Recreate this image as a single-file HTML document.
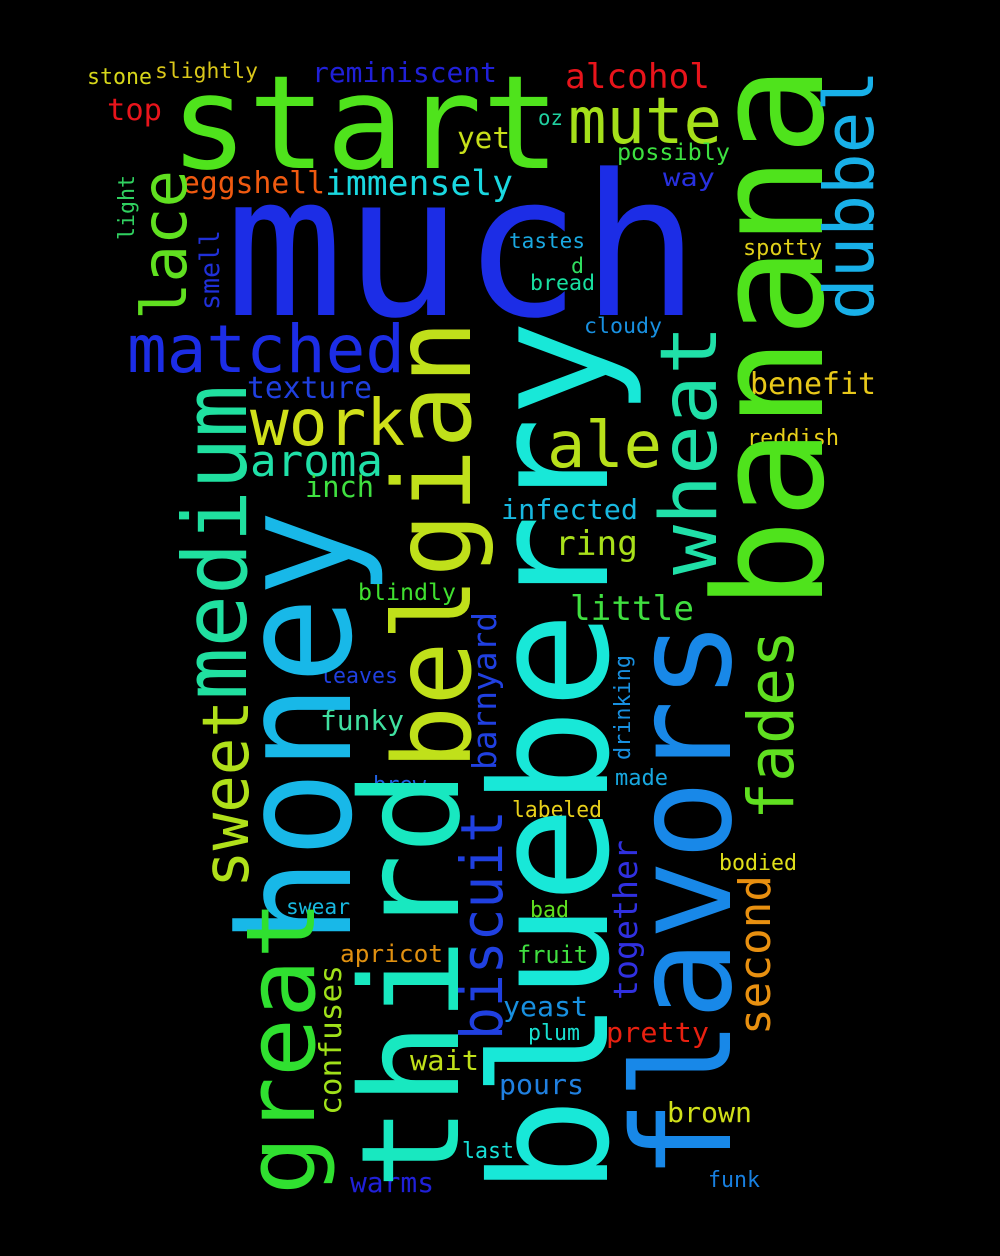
<!DOCTYPE html>
<html><head><meta charset="utf-8">
<style>
html,body{margin:0;padding:0;background:#000;}
svg{display:block;}
text{font-family:"DejaVu Sans Mono","Liberation Mono",monospace;}
</style></head>
<body>
<svg width="1000" height="1256" viewBox="0 0 1000 1256">
<rect width="1000" height="1256" fill="#000"/>
<g lengthAdjust="spacingAndGlyphs">
<!-- horizontal words -->
<text x="225" y="315" font-size="197" fill="#1c2de6" textLength="475" lengthAdjust="spacingAndGlyphs">much</text>
<text x="170" y="168" font-size="130" fill="#4fe31c" textLength="390" lengthAdjust="spacingAndGlyphs">start</text>
<text x="568" y="143" font-size="64" fill="#a5e01a" textLength="154" lengthAdjust="spacingAndGlyphs">mute</text>
<text x="565" y="88" font-size="34" fill="#e8141b" textLength="145" lengthAdjust="spacingAndGlyphs">alcohol</text>
<text x="312" y="82" font-size="28" fill="#2020d8" textLength="185" lengthAdjust="spacingAndGlyphs">reminiscent</text>
<text x="87" y="84" font-size="22" fill="#d7d71a" textLength="65" lengthAdjust="spacingAndGlyphs">stone</text>
<text x="155" y="78" font-size="21" fill="#dac71a" textLength="103" lengthAdjust="spacingAndGlyphs">slightly</text>
<text x="107" y="120" font-size="30" fill="#e8141b" textLength="55" lengthAdjust="spacingAndGlyphs">top</text>
<text x="457" y="148" font-size="29" fill="#c8e01a" textLength="53" lengthAdjust="spacingAndGlyphs">yet</text>
<text x="538" y="125" font-size="21" fill="#20d0a0" textLength="25" lengthAdjust="spacingAndGlyphs">oz</text>
<text x="617" y="160" font-size="23" fill="#3de040" textLength="113" lengthAdjust="spacingAndGlyphs">possibly</text>
<text x="182" y="193" font-size="30" fill="#f05a10" textLength="143" lengthAdjust="spacingAndGlyphs">eggshell</text>
<text x="325" y="195" font-size="35" fill="#1ad8e0" textLength="188" lengthAdjust="spacingAndGlyphs">immensely</text>
<text x="663" y="186" font-size="25" fill="#2830e0" textLength="52" lengthAdjust="spacingAndGlyphs">way</text>
<text x="509" y="248" font-size="21" fill="#1aa8e0" textLength="76" lengthAdjust="spacingAndGlyphs">tastes</text>
<text x="743" y="255" font-size="22" fill="#e0d01a" textLength="79" lengthAdjust="spacingAndGlyphs">spotty</text>
<text x="571" y="273" font-size="21" fill="#30e060" textLength="13" lengthAdjust="spacingAndGlyphs">d</text>
<text x="530" y="290" font-size="21" fill="#18e0a0" textLength="65" lengthAdjust="spacingAndGlyphs">bread</text>
<text x="584" y="333" font-size="21" fill="#1890e0" textLength="78" lengthAdjust="spacingAndGlyphs">cloudy</text>
<text x="127" y="372" font-size="66" fill="#1c2de6" textLength="278" lengthAdjust="spacingAndGlyphs">matched</text>
<text x="750" y="394" font-size="30" fill="#e8c81a" textLength="126" lengthAdjust="spacingAndGlyphs">benefit</text>
<text x="247" y="398" font-size="30" fill="#2040e0" textLength="125" lengthAdjust="spacingAndGlyphs">texture</text>
<text x="250" y="445" font-size="64" fill="#d0e01a" textLength="155" lengthAdjust="spacingAndGlyphs">work</text>
<text x="547" y="467" font-size="64" fill="#b8e01a" textLength="115" lengthAdjust="spacingAndGlyphs">ale</text>
<text x="747" y="445" font-size="22" fill="#e8d01a" textLength="92" lengthAdjust="spacingAndGlyphs">reddish</text>
<text x="250" y="476" font-size="44" fill="#20e0a8" textLength="133" lengthAdjust="spacingAndGlyphs">aroma</text>
<text x="305" y="497" font-size="29" fill="#40e040" textLength="69" lengthAdjust="spacingAndGlyphs">inch</text>
<text x="501" y="519" font-size="28" fill="#18b8e0" textLength="137" lengthAdjust="spacingAndGlyphs">infected</text>
<text x="555" y="555" font-size="34" fill="#a8e01a" textLength="83" lengthAdjust="spacingAndGlyphs">ring</text>
<text x="570" y="620" font-size="34" fill="#40e040" textLength="124" lengthAdjust="spacingAndGlyphs">little</text>
<text x="358" y="600" font-size="23" fill="#40e030" textLength="98" lengthAdjust="spacingAndGlyphs">blindly</text>
<text x="320" y="683" font-size="22" fill="#2040e0" textLength="78" lengthAdjust="spacingAndGlyphs">leaves</text>
<text x="320" y="730" font-size="28" fill="#40e0a0" textLength="84" lengthAdjust="spacingAndGlyphs">funky</text>
<text x="373" y="792" font-size="22" fill="#2060e0" textLength="53" lengthAdjust="spacingAndGlyphs">brew</text>
<text x="615" y="785" font-size="22" fill="#18a8e0" textLength="53" lengthAdjust="spacingAndGlyphs">made</text>
<text x="512" y="817" font-size="22" fill="#e8d01a" textLength="90" lengthAdjust="spacingAndGlyphs">labeled</text>
<text x="719" y="870" font-size="22" fill="#e0e01a" textLength="78" lengthAdjust="spacingAndGlyphs">bodied</text>
<text x="286" y="914" font-size="21" fill="#18b8e0" textLength="64" lengthAdjust="spacingAndGlyphs">swear</text>
<text x="530" y="917" font-size="22" fill="#60e020" textLength="39" lengthAdjust="spacingAndGlyphs">bad</text>
<text x="340" y="962" font-size="24" fill="#e09010" textLength="103" lengthAdjust="spacingAndGlyphs">apricot</text>
<text x="517" y="963" font-size="24" fill="#40e040" textLength="71" lengthAdjust="spacingAndGlyphs">fruit</text>
<text x="503" y="1016" font-size="28" fill="#1890e0" textLength="85" lengthAdjust="spacingAndGlyphs">yeast</text>
<text x="528" y="1040" font-size="22" fill="#18e0d0" textLength="52" lengthAdjust="spacingAndGlyphs">plum</text>
<text x="606" y="1042" font-size="28" fill="#e82010" textLength="103" lengthAdjust="spacingAndGlyphs">pretty</text>
<text x="410" y="1070" font-size="28" fill="#c0e01a" textLength="69" lengthAdjust="spacingAndGlyphs">wait</text>
<text x="499" y="1094" font-size="28" fill="#2080e0" textLength="85" lengthAdjust="spacingAndGlyphs">pours</text>
<text x="667" y="1122" font-size="28" fill="#d0e01a" textLength="85" lengthAdjust="spacingAndGlyphs">brown</text>
<text x="462" y="1158" font-size="22" fill="#18e0d8" textLength="52" lengthAdjust="spacingAndGlyphs">last</text>
<text x="350" y="1192" font-size="28" fill="#2020d8" textLength="84" lengthAdjust="spacingAndGlyphs">warms</text>
<text x="708" y="1187" font-size="22" fill="#1880e0" textLength="52" lengthAdjust="spacingAndGlyphs">funk</text>

<!-- vertical words (read bottom to top) -->
<text transform="translate(822,610) rotate(-90)" font-size="151" fill="#4fe31c" textLength="545" lengthAdjust="spacingAndGlyphs">banana</text>
<text transform="translate(607,1195) rotate(-90)" font-size="162" fill="#18e8d8" textLength="875" lengthAdjust="spacingAndGlyphs">blueberry</text>
<text transform="translate(730,1180) rotate(-90)" font-size="136" fill="#1888e8" textLength="560" lengthAdjust="spacingAndGlyphs">flavors</text>
<text transform="translate(458,1190) rotate(-90)" font-size="136" fill="#18e8c0" textLength="420" lengthAdjust="spacingAndGlyphs">third</text>
<text transform="translate(470,770) rotate(-90)" font-size="107" fill="#c0e01a" textLength="450" lengthAdjust="spacingAndGlyphs">belgian</text>
<text transform="translate(350,945) rotate(-90)" font-size="155" fill="#18b8e8" textLength="435" lengthAdjust="spacingAndGlyphs">honey</text>
<text transform="translate(314,1195) rotate(-90)" font-size="95" fill="#30e030" textLength="295" lengthAdjust="spacingAndGlyphs">great</text>
<text transform="translate(248,888) rotate(-90)" font-size="64" fill="#b0e01a" textLength="188" lengthAdjust="spacingAndGlyphs">sweet</text>
<text transform="translate(246,700) rotate(-90)" font-size="88" fill="#20e0a0" textLength="315" lengthAdjust="spacingAndGlyphs">medium</text>
<text transform="translate(186,320) rotate(-90)" font-size="62" fill="#60e020" textLength="150" lengthAdjust="spacingAndGlyphs">lace</text>
<text transform="translate(219,310) rotate(-90)" font-size="27" fill="#2030d8" textLength="80" lengthAdjust="spacingAndGlyphs">smell</text>
<text transform="translate(134,240) rotate(-90)" font-size="22" fill="#30d060" textLength="65" lengthAdjust="spacingAndGlyphs">light</text>
<text transform="translate(873,320) rotate(-90)" font-size="69" fill="#18b0e8" textLength="250" lengthAdjust="spacingAndGlyphs">dubbel</text>
<text transform="translate(716,575) rotate(-90)" font-size="78" fill="#20e0a8" textLength="250" lengthAdjust="spacingAndGlyphs">wheat</text>
<text transform="translate(793,820) rotate(-90)" font-size="63" fill="#60e020" textLength="190" lengthAdjust="spacingAndGlyphs">fades</text>
<text transform="translate(770,1035) rotate(-90)" font-size="44" fill="#e89010" textLength="160" lengthAdjust="spacingAndGlyphs">second</text>
<text transform="translate(502,1040) rotate(-90)" font-size="58" fill="#2040e0" textLength="230" lengthAdjust="spacingAndGlyphs">biscuit</text>
<text transform="translate(496,770) rotate(-90)" font-size="33" fill="#2040e0" textLength="158" lengthAdjust="spacingAndGlyphs">barnyard</text>
<text transform="translate(637,1000) rotate(-90)" font-size="33" fill="#3030e0" textLength="160" lengthAdjust="spacingAndGlyphs">together</text>
<text transform="translate(630,760) rotate(-90)" font-size="22" fill="#1890e0" textLength="105" lengthAdjust="spacingAndGlyphs">drinking</text>
<text transform="translate(341,1115) rotate(-90)" font-size="30" fill="#a0e01a" textLength="150" lengthAdjust="spacingAndGlyphs">confuses</text>
</g>
</svg>
</body></html>
